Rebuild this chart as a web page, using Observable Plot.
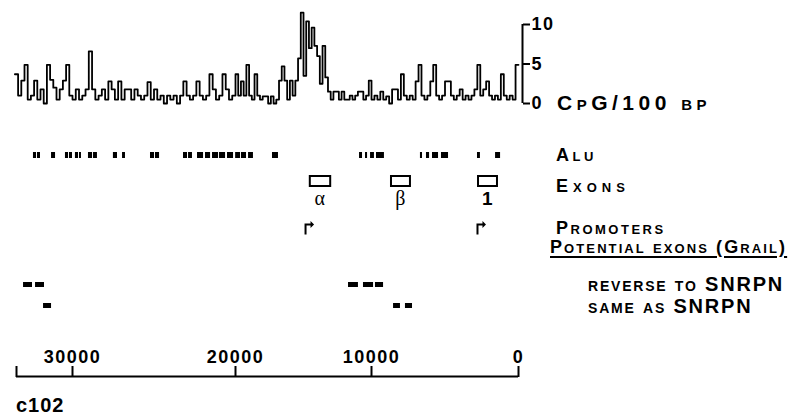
<!DOCTYPE html>
<html>
<head>
<meta charset="utf-8">
<script src="https://cdn.jsdelivr.net/npm/d3@7"></script>
<script src="https://cdn.jsdelivr.net/npm/@observablehq/plot@0.6"></script>
<style>
  body { margin: 0; background: #fff; }
  #chart { position: relative; width: 792px; height: 419px; overflow: hidden; background: #fff;
           font-family: "Liberation Sans", Arial, sans-serif; font-weight: bold; color: #000; }
  #chart svg { position: absolute; left: 0; }
  .lab { position: absolute; white-space: nowrap; font-size: 18px; line-height: 18px;
         letter-spacing: 2.5px; font-variant: small-caps; }
  .big { font-size: 20px; line-height: 20px; letter-spacing: 1.8px; }
  .ul { text-decoration: underline; text-decoration-thickness: 2px; text-underline-offset: 3px; }
</style>
</head>
<body>
<div id="chart">
  <div class="lab" style="left:557px;top:93px;font-size:21px;line-height:20px;letter-spacing:4.5px">CpG/100 bp</div>
  <div class="lab" style="left:556px;top:146px;letter-spacing:3.5px">Alu</div>
  <div class="lab" style="left:556px;top:177px;letter-spacing:5px">Exons</div>
  <div class="lab" style="left:556px;top:219px">Promoters</div>
  <div class="lab ul" style="left:550px;top:238px;letter-spacing:2.1px">Potential exons (Grail)</div>
  <div class="lab big" style="left:588px;top:274px">reverse to SNRPN</div>
  <div class="lab big" style="left:588px;top:296px">same as SNRPN</div>
  <div class="lab" style="left:16px;top:395px;font-size:20px;line-height:20px;font-variant:normal;letter-spacing:1px">c102</div>
</div>
<script>
// ---------- data (positions in bp, counted leftwards from 0 at the right) ----------
const scaleStart = 33500;
const scaleTicks = [30000, 20000, 10000, 0];
const cpgTicks = [0, 5, 10];

// CpG per 100 bp, bins of 200 bp read left to right starting at 33600 bp
const cpgBinStart = 33600;
const cpgBinSize = 200;
const cpg = [
  3.7, 1, 2.9, 4.9, 0.5, 1, 2.9, 0.5, 1.8, 0, 4.9, 3, 2, 0.5, 1.8, 2.9, 4.9, 1,
  0.5, 1.8, 0.5, 1, 1.8, 6.6, 1.8, 0.5, 1, 1.8, 0.5, 2.8, 1.8, 0.5, 2.8, 0.5, 1.8, 1.8, 0.5, 1.8,
  1, 0.5, 1, 2.7, 0.5, 1.8, 0.5, 1, 0, 1, 0.5, 1, 0, 1, 2.8, 1, 0.5, 1, 2.8, 1,
  0.5, 1, 3.7, 1.8, 0.5, 1, 3.7, 1.8, 0.5, 1,
  3.7, 1, 2.8, 1, 4.9, 1, 0.5, 3.7, 1, 0.5, 0.9, 0.9, 0, 0.9, 0, 0.5, 2.9, 4.7, 2.9, 0.5,
  2.9, 1, 2.9, 5.7, 11.5, 3.5, 10.4, 7, 9.6, 7.3, 6, 2.5, 7.3, 3.3, 1.5, 0.5, 1.5, 1.5, 0.5, 1.5,
  0.5, 0.5, 1, 0.5, 1, 1.5, 1.5, 0.5, 1, 2.9,
  0.5, 1, 0.5, 1.5, 0.5, 0.9, 0, 1.8, 1.8, 0.5, 3.7, 1, 0.5, 1, 0.5, 2.8, 4.9, 1, 0.5, 1,
  2.8, 4.9, 1, 0.5, 1, 2.8, 2.8, 1, 0.5, 1, 1.8, 0.5, 1, 0.5, 1, 1.8, 4.9, 1, 1.8, 2.8,
  1, 0.5, 1, 0.5, 3.7, 1, 0.5, 1, 0.5, 4.9
];

const aluStart = [32440, 32190, 31310, 30440, 30190, 29820, 29570, 29020, 28710, 27490, 26930,
  25215, 24910, 23190, 22880, 22330, 21840, 21410, 20980, 20490, 19990, 19560, 19040, 17280,
  10880, 10440, 10070, 9660, 6670, 6260, 5850, 5240, 2790, 1560];
const aluEnd = [32250, 32000, 31060, 30250, 30000, 29630, 29450, 28770, 28470, 27240, 26750,
  24970, 24660, 22945, 22640, 21960, 21530, 21040, 20610, 20120, 19630, 19190, 18680, 16840,
  10660, 10290, 9800, 9120, 6530, 6050, 5440, 4760, 2590, 1220];

const exonNames = ["α", "β", "1"];
const exonStart = [14500, 8640, 2720];
const exonEnd = [13000, 7350, 1430];

const promoters = [14850, 2790];

const reverseStart = [33060, 32310, 11690, 10590, 9730];
const reverseEnd = [32500, 31750, 10960, 9860, 9180];
const sameStart = [31810, 8500, 7690];
const sameEnd = [31310, 8030, 7210];

// ---------- build ----------
const spans = (s, e) => s.map((d, i) => ({start: d, end: e[i]}));
const alu = spans(aluStart, aluEnd);
const reverse = spans(reverseStart, reverseEnd);
const same = spans(sameStart, sameEnd);
const exons = exonNames.map((n, i) => ({name: n, start: exonStart[i], end: exonEnd[i], mid: (exonStart[i] + exonEnd[i]) / 2}));
const cpgPoints = cpg.map((v, i) => ({bp: cpgBinStart - i * cpgBinSize, v}));
cpgPoints.push({bp: 0, v: cpg[cpg.length - 1]});

const xScale = {type: "linear", domain: [scaleStart, ...scaleTicks], range: [16, 72, 235, 371, 518]};
const font = {fontFamily: "Liberation Sans, Arial, sans-serif", fontSize: "18px", fontWeight: "bold", letterSpacing: "1.5px", background: "transparent", color: "black"};

const chart = document.getElementById("chart");
function add(svg, top) { svg.style.top = top + "px"; chart.append(svg); }

// CpG trace
add(Plot.plot({
  width: 792, height: 122, marginRight: 270, style: font,
  x: {...xScale, axis: null},
  y: {domain: [0, 10], range: [103, 24]},
  marks: [
    Plot.ruleX([0], {y1: 0, y2: 10, dx: 4, strokeWidth: 2}),
    Plot.axisY({anchor: "right", ticks: cpgTicks, tickSize: 7, tickPadding: 2, strokeWidth: 2, label: null}),
    Plot.line(cpgPoints, {x: "bp", y: "v", curve: "step-after", stroke: "black", strokeWidth: 1.8})
  ]
}), 0);

const track = (height, marks, extra = {}) => Plot.plot({
  width: 792, height, margin: 0, style: font, x: {...xScale, axis: null}, marks, ...extra
});

// Alu
add(track(6, [Plot.rect(alu, {x1: "start", x2: "end", fill: "black"})]), 152);

// Exons + labels
add(track(42, [
  Plot.rect(exons, {x1: "start", x2: "end", fill: "white", stroke: "black", strokeWidth: 2, inset: 0}),
  Plot.text(exons.filter(d => d.name !== "1"), {x: "mid", text: "name", frameAnchor: "bottom", dy: 18,
    fontFamily: "Liberation Serif, serif", fontWeight: "normal", fontSize: 20}),
  Plot.text(exons.filter(d => d.name === "1"), {x: "mid", text: "name", frameAnchor: "bottom", dy: 18, fontSize: 19})
], {marginTop: 4, marginBottom: 28}), 172);

// Promoters (bent arrows)
const bentArrow = {
  draw(ctx) {
    ctx.moveTo(-1, 6); ctx.lineTo(-1, -5); ctx.lineTo(5, -5); ctx.lineTo(5, -7.5); ctx.lineTo(8.5, -4);
    ctx.lineTo(5, -0.5); ctx.lineTo(5, -3); ctx.lineTo(1, -3); ctx.lineTo(1, 6); ctx.closePath();
  }
};
add(track(18, [Plot.dot(promoters, {x: d => d, frameAnchor: "middle", symbol: bentArrow, fill: "black", stroke: "none", r: 5})]), 219);

// Potential exons
add(track(5, [Plot.rect(reverse, {x1: "start", x2: "end", fill: "black"})]), 282);
add(track(5, [Plot.rect(same, {x1: "start", x2: "end", fill: "black"})]), 303);

// Scale bar
add(Plot.plot({
  width: 792, height: 52, marginTop: 46, marginBottom: 4, style: font,
  x: xScale,
  y: {domain: [0, 1], axis: null},
  marks: [
    Plot.ruleY([1], {x1: scaleStart, x2: 0, strokeWidth: 2}),
    Plot.axisX({anchor: "top", ticks: [scaleStart, ...scaleTicks], tickFormat: d => d === scaleStart ? "" : String(d),
      tickSize: 11, tickPadding: 3, strokeWidth: 2, label: null})
  ]
}), 330);
</script>
</body>
</html>
